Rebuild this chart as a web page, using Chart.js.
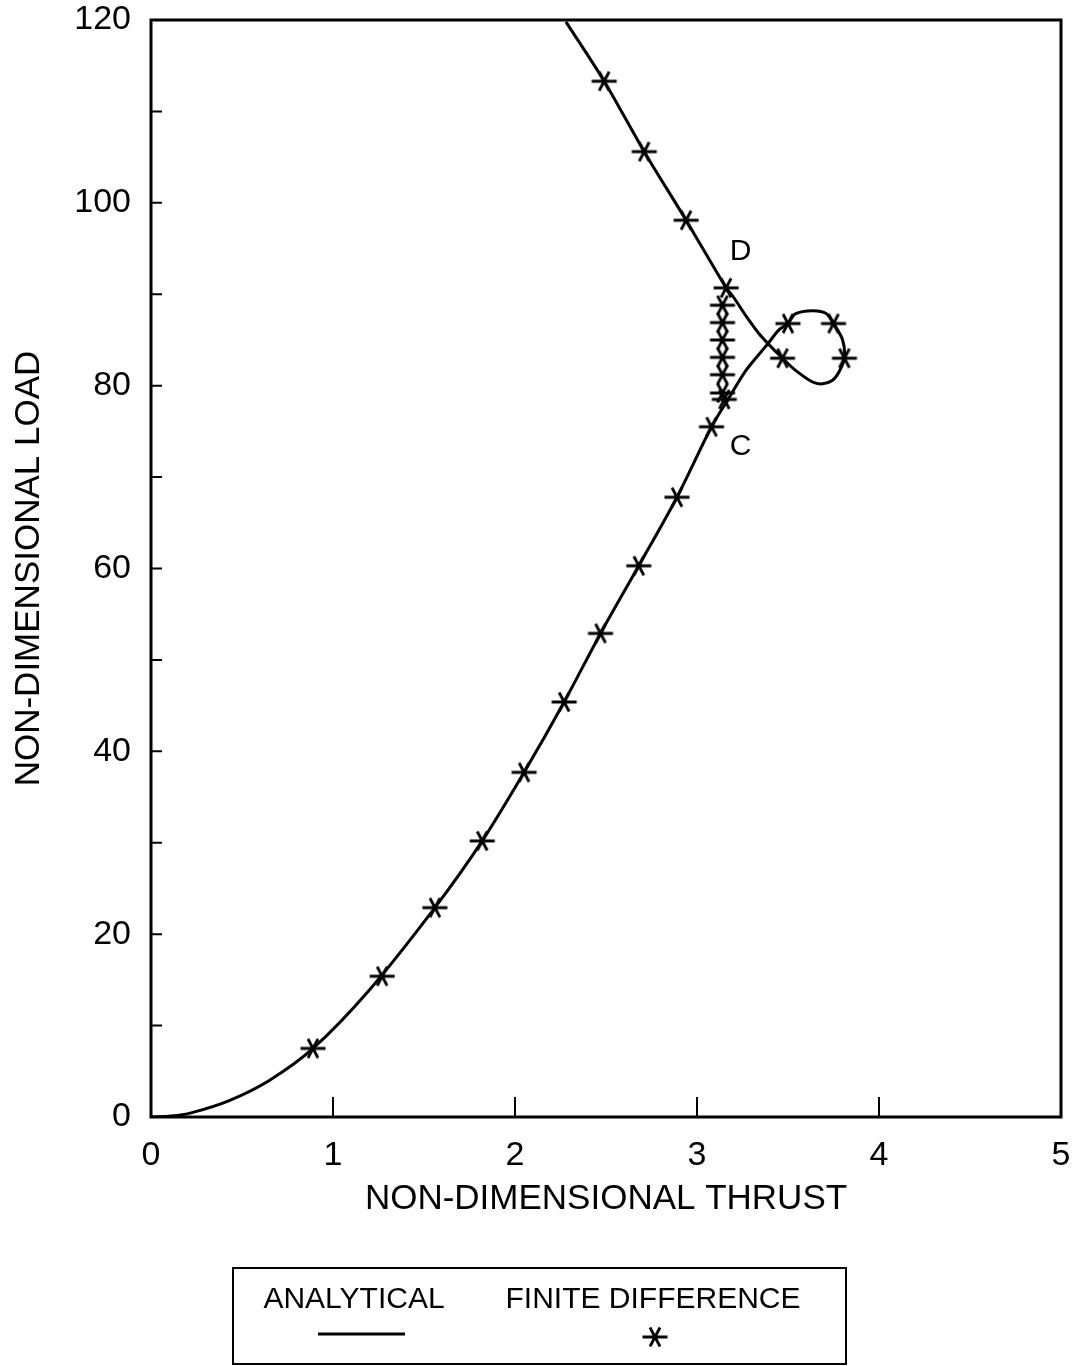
<!DOCTYPE html>
<html>
<head>
<meta charset="utf-8">
<script src="https://cdn.jsdelivr.net/npm/chart.js@4.4.0/dist/chart.umd.min.js"></script>
<style>
  html, body { margin: 0; padding: 0; background: #fff; }
  #wrap { position: relative; width: 1074px; height: 1366px; }
</style>
</head>
<body>
<div id="wrap"><canvas id="chart"></canvas></div>
<script>
// analytical solution (thrust, load) in path order
const analyticalThrust = [0, 0.11, 0.22, 0.43, 0.65, 0.89, 1.20, 1.56, 1.82, 2.05, 2.27, 2.47, 2.68, 2.89, 3.08,
  3.18, 3.27, 3.39, 3.45, 3.50, 3.54, 3.635, 3.71, 3.75, 3.80, 3.81, 3.78, 3.745, 3.69, 3.635, 3.54, 3.47,
  3.39, 3.34, 3.27, 3.20, 3.16, 2.94, 2.71, 2.49, 2.28];
const analyticalLoad = [0, 0.1, 0.45, 1.8, 4.0, 7.5, 13.9, 22.9, 30.2, 37.7, 45.4, 52.9, 60.3, 67.8, 75.5,
  78.8, 81.7, 84.6, 86.1, 86.8, 87.85, 88.2, 87.9, 86.8, 85.0, 83.0, 81.5, 80.6, 80.2, 80.4, 81.7, 83.0,
  84.6, 85.7, 87.6, 89.7, 90.7, 98.1, 105.6, 113.3, 119.8];

// finite difference points
const fdThrust = [0.89, 1.27, 1.56, 1.82, 2.05, 2.27, 2.47, 2.68, 2.89, 3.08,
  3.15, 3.14, 3.14, 3.14, 3.14, 3.14, 3.14,
  3.16, 2.94, 2.71, 2.49,
  3.47, 3.50, 3.75, 3.81];
const fdLoad = [7.5, 15.4, 22.9, 30.2, 37.7, 45.4, 52.9, 60.3, 67.8, 75.5,
  78.5, 79.2, 81.2, 83.1, 85.0, 86.9, 88.8,
  90.7, 98.1, 105.6, 113.3,
  83.0, 86.8, 86.8, 83.0];

// point labels on the curve
const noteText = ["D", "C"];
const noteThrust = [3.24, 3.24];
const noteLoad = [94.6, 73.3];

const xTicks = [0, 1, 2, 3, 4, 5];
const yTicks = [0, 10, 20, 30, 40, 50, 60, 70, 80, 90, 100, 110, 120];

const FONT = "'Liberation Sans', Arial, Helvetica, sans-serif";

// asterisk marker: horizontal bar plus a steep X
function makeAsterisk() {
  const c = document.createElement("canvas");
  c.width = 28;
  c.height = 24;
  const g = c.getContext("2d");
  g.strokeStyle = "#000";
  g.lineWidth = 2.8;
  g.beginPath();
  g.moveTo(1.5, 12); g.lineTo(26.5, 12);
  g.moveTo(9, 2.5); g.lineTo(19, 21.5);
  g.moveTo(19, 2.5); g.lineTo(9, 21.5);
  g.stroke();
  return c;
}
const asterisk = makeAsterisk();

// inward ticks, frame box, curve labels and the boxed legend
const framePlugin = {
  id: "frame",
  afterDraw(chart) {
    const { ctx, chartArea: a, scales } = chart;
    ctx.save();
    ctx.strokeStyle = "#000";
    ctx.lineWidth = 3;
    ctx.strokeRect(a.left, a.top, a.right - a.left, a.bottom - a.top);

    ctx.lineWidth = 2;
    ctx.beginPath();
    yTicks.forEach((v) => {
      if (v === 0 || v === 120) return;
      const y = scales.y.getPixelForValue(v);
      ctx.moveTo(a.left, y);
      ctx.lineTo(a.left + 11, y);
    });
    xTicks.forEach((v) => {
      if (v === 0 || v === 5) return;
      const x = scales.x.getPixelForValue(v);
      ctx.moveTo(x, a.bottom);
      ctx.lineTo(x, a.bottom - 20);
    });
    ctx.stroke();

    ctx.fillStyle = "#000";
    ctx.textAlign = "center";
    ctx.textBaseline = "middle";
    ctx.font = "30px " + FONT;
    noteText.forEach((t, i) => {
      ctx.fillText(t, scales.x.getPixelForValue(noteThrust[i]), scales.y.getPixelForValue(noteLoad[i]));
    });

    // legend
    ctx.lineWidth = 2;
    ctx.strokeRect(233, 1268, 613, 96);
    ctx.font = "30px " + FONT;
    ctx.fillText("ANALYTICAL", 354, 1300);
    ctx.fillText("FINITE DIFFERENCE", 653, 1300);
    ctx.lineWidth = 3;
    ctx.beginPath();
    ctx.moveTo(318, 1334);
    ctx.lineTo(405, 1334);
    ctx.stroke();
    ctx.drawImage(asterisk, 655 - 14, 1337 - 12);
    ctx.restore();
  },
};

new Chart(document.getElementById("chart"), {
  type: "scatter",
  data: {
    datasets: [
      {
        label: "ANALYTICAL",
        data: analyticalThrust.map((x, i) => ({ x, y: analyticalLoad[i] })),
        showLine: true,
        borderColor: "#000",
        borderWidth: 3,
        tension: 0.3,
        pointRadius: 0,
        order: 2,
      },
      {
        label: "FINITE DIFFERENCE",
        data: fdThrust.map((x, i) => ({ x, y: fdLoad[i] })),
        showLine: false,
        pointStyle: asterisk,
        pointRadius: 12,
        order: 1,
      },
    ],
  },
  options: {
    responsive: true,
    maintainAspectRatio: false,
    animation: false,
    layout: { padding: { top: 20, right: 12, left: 0, bottom: 146 } },
    plugins: { legend: { display: false }, tooltip: { enabled: false } },
    scales: {
      x: {
        type: "linear",
        min: 0,
        max: 5,
        afterBuildTicks: (s) => { s.ticks = xTicks.map((v) => ({ value: v })); },
        afterFit: (s) => { s.height = 103; s.paddingLeft = 0; s.paddingRight = 0; },
        grid: { display: false, drawTicks: false },
        border: { display: false },
        ticks: { color: "#000", padding: 18, font: { family: FONT, size: 34 } },
        title: {
          display: true,
          text: "NON-DIMENSIONAL THRUST",
          color: "#000",
          font: { family: FONT, size: 35 },
          padding: { top: 0, bottom: 0 },
        },
      },
      y: {
        type: "linear",
        min: 0,
        max: 120,
        afterBuildTicks: (s) => { s.ticks = yTicks.filter((v) => v % 20 === 0).map((v) => ({ value: v })); },
        afterFit: (s) => { s.width = 151; s.paddingTop = 0; s.paddingBottom = 0; },
        grid: { display: false, drawTicks: false },
        border: { display: false },
        ticks: { color: "#000", padding: 20, font: { family: FONT, size: 34 } },
        title: {
          display: true,
          text: "NON-DIMENSIONAL LOAD",
          color: "#000",
          font: { family: FONT, size: 35 },
          padding: { top: 8, bottom: 0 },
        },
      },
    },
  },
  plugins: [framePlugin],
});
</script>
</body>
</html>
